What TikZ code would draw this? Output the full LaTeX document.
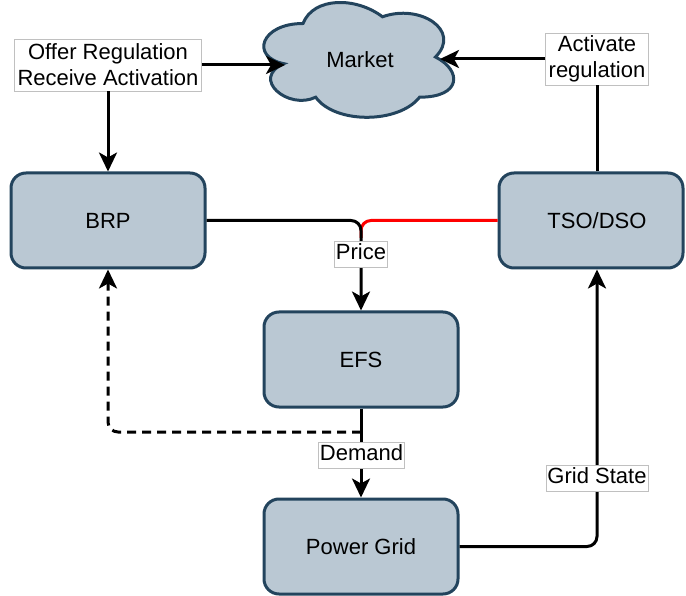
\documentclass[tikz,border=0pt]{standalone}
\usepackage{fontspec}
\setmainfont{Liberation Sans}
\usetikzlibrary{arrows.meta}
\definecolor{boxfill}{HTML}{BAC8D3}
\definecolor{boxdraw}{HTML}{23445D}
\definecolor{lblgray}{HTML}{C0C0C0}
\begin{document}
\begin{tikzpicture}[x=1pt,y=-1pt,
  font=\fontsize{22}{26}\selectfont,
  blk/.style={draw=boxdraw, fill=boxfill, line width=3pt, rounded corners=15pt,
    minimum width=194pt, minimum height=95pt, inner sep=0pt},
  lbl/.style={draw=lblgray, fill=white, line width=0.8pt, inner xsep=1.5pt, inner ysep=2.5pt,
    text height=16pt, text depth=5pt},
  lbltwo/.style={draw=lblgray, fill=white, line width=0.8pt, inner xsep=3pt, inner ysep=0pt,
    align=center, minimum height=52pt},
  conn/.style={line width=3pt, rounded corners=10pt},
  arr/.style={-{Stealth[length=19pt,width=18pt,inset=5pt]}}
]
\useasboundingbox (0,0) rectangle (686,596);
\fill[white] (0,0) rectangle (686,596);

% boxes
\node[blk] (brp) at (108,220.5) {BRP};
\node[blk, minimum width=184pt] (tso) at (591,220.5) {};
\node (tsot) at (597,220.5) {TSO/DSO};
\node[blk] (efs) at (361,359.5) {EFS};
\node[blk] (pg) at (361,546.5) {Power Grid};

% cloud
\draw[draw=boxdraw, fill=boxfill, line width=3pt]
  (303,23.5) .. controls (260.6,23.5) and (250,57) .. (283.9,63.7)
  .. controls (250,78.4) and (288.2,110.6) .. (315.7,97.2)
  .. controls (334.8,124) and (398.4,124) .. (419.6,97.2)
  .. controls (462,97.2) and (462,70.4) .. (435.5,57)
  .. controls (462,30.2) and (419.6,3.4) .. (382.5,16.8)
  .. controls (356,-3.3) and (313.6,-3.3) .. (303,23.5) -- cycle;
\node (mk) at (360,60) {Market};
\coordinate (mkl) at (285,63.7);
\coordinate (mkr) at (440,57);

% labels (positions)
\coordinate (offerpos) at (108,65);
\coordinate (actpos) at (597,59);

% connectors
\node[lbltwo] (offer) at (offerpos) {Offer Regulation\\Receive Activation};
\node[lbltwo] (act) at (actpos) {Activate\\regulation};
\draw[conn,arr] (offer.east) -- (offer.east -| mkl);
\draw[conn,arr] (offer.south) -- (brp.north);
\draw[conn,arr] (act.west) -- (act.west -| mkr);
\draw[conn] (tso.north -| act.south) -- (act.south);

\coordinate (pj) at (361,238);
\draw[conn, red] (tso.west) -| (pj);
\draw[conn,arr] (brp.east) -| (efs.north);
\node[lbl] (price) at (361,254) {Price};

\coordinate (dj) at (361,432);
\draw[conn,arr,dash pattern=on 9pt off 6pt] (dj) -| (brp.south);
\draw[conn,arr] (efs.south) -- (pg.north);
\node[lbl] (dem) at (361.5,455) {Demand};

\coordinate (gsx) at (597,478);
\draw[conn,arr] (pg.east) -| (tso.south -| gsx);
\node[lbl] (gs) at (gsx) {Grid State};
\end{tikzpicture}
\end{document}
